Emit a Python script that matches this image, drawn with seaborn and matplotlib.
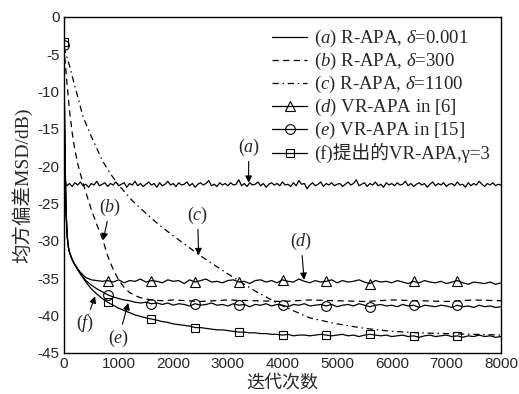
import matplotlib
matplotlib.use('Agg')
import numpy as np
import pandas as pd
import matplotlib.pyplot as plt
import seaborn as sns
from matplotlib.lines import Line2D

# ---------------- data ----------------
iters_a = [0, 10, 20, 30, 40] + list(range(50, 8001, 50))
msd_a = [-3.5, -15.0, -20.0, -22.0, -22.5,
         -22.6, -22.3, -22.7, -22.2, -22.5, -22.1, -22.6, -22.4, -22.8, -22.3, -22.5, -22.0, -22.6, -22.4, -22.2, -22.7, -22.3, -22.5, -22.1, -22.6,
         -22.4, -22.2, -22.8, -22.3, -22.5, -22.0, -22.6, -22.3, -22.7, -22.4, -22.1, -22.5, -22.3, -22.8, -22.2, -22.6, -22.4, -22.0, -22.5, -22.3,
         -22.7, -22.2, -22.5, -22.4, -22.1, -22.6, -22.3, -22.8, -22.4, -22.2, -22.5, -22.3, -21.9, -22.6, -22.4, -22.7, -22.2, -22.5, -22.3, -22.6,
         -22.2, -22.5, -22.4, -21.8, -22.6, -22.3, -22.7, -22.2, -22.5, -22.4, -22.1, -22.6, -22.3, -22.8, -22.4, -22.2, -22.5, -22.3, -22.6, -22.1,
         -22.5, -22.4, -22.7, -22.2, -22.6, -21.9, -22.4, -22.3, -23.0, -22.5, -22.2, -22.6, -22.4, -22.1, -22.7, -22.3, -22.5, -22.2, -22.6, -22.4,
         -22.3, -22.7, -22.4, -22.1, -22.5, -22.3, -21.8, -22.6, -22.4, -22.2, -22.7, -22.3, -22.5, -22.1, -22.6, -22.4, -22.8, -22.2, -22.5, -22.3,
         -22.6, -22.2, -22.5, -22.4, -22.0, -22.6, -22.3, -22.7, -22.4, -22.2, -22.5, -22.3, -22.8, -22.4, -22.1, -22.6, -22.3, -22.5, -22.2, -22.7,
         -22.4, -22.3, -22.6, -22.1, -22.5, -22.4, -22.8, -22.2, -22.6, -22.3, -22.5, -22.0, -22.4, -22.7, -22.3, -22.5, -22.2, -22.6, -22.4, -22.5]

iters_b = [0, 50, 100, 150, 200, 250, 300, 400, 500, 600, 700, 800, 900, 1000, 1100, 1200, 1300, 1400, 1600, 1800,
           2000, 2500, 3000, 3500, 4000, 4500, 5000, 5500, 6000, 6500, 7000, 7500, 8000]
msd_b = [-4.0, -8.5, -12.5, -15.5, -17.8, -19.6, -21.0, -23.5, -25.8, -27.8, -29.6, -32.0, -33.8, -35.2, -36.2, -36.9, -37.3, -37.6, -37.9, -38.0,
         -37.9, -38.1, -37.9, -38.0, -38.1, -37.9, -38.0, -38.1, -37.9, -38.0, -38.1, -37.9, -38.0]

iters_c = [0, 100, 200, 350, 500, 700, 850, 1000, 1250, 1500, 1750, 2000, 2500, 3000, 3500, 4000, 4500, 5000, 5500, 6000, 6500, 7000, 7500, 8000]
msd_c = [-4.0, -6.5, -9.3, -13.4, -16.0, -19.2, -21.0, -22.5, -24.6, -26.3, -27.9, -29.3, -32.0, -34.4, -36.7, -38.7, -40.3, -41.1, -41.7, -42.1, -42.3, -42.4, -42.5, -42.6]

iters_def = [0, 10, 20, 40, 60, 80, 100, 150, 200, 250, 300, 400, 500, 600, 700] + list(range(800, 8001, 100))
msd_d = [-3.5, -14.0, -20.0, -26.5, -29.5, -30.8, -31.5, -32.5, -33.2, -33.7, -34.2, -34.9, -35.2, -35.3, -35.4,
         -35.3, -35.5, -35.2, -35.6, -35.3, -35.4, -35.1, -35.5, -35.3, -35.4,
         -35.6, -35.2, -35.4, -35.3, -35.7, -35.2, -35.5, -35.3, -35.1, -35.5,
         -35.4, -35.6, -35.3, -35.2, -35.5, -35.4, -35.7, -35.3, -35.2, -35.5,
         -35.3, -35.6, -35.2, -35.4, -35.5, -35.1, -35.4, -35.6, -35.3, -35.5,
         -35.4, -35.2, -35.6, -35.3, -35.5, -35.4, -35.2, -35.5, -35.7, -35.3,
         -35.5, -35.4, -35.6, -35.3, -35.5, -35.7, -35.4, -35.6, -35.3, -35.5,
         -35.6, -35.4, -35.7, -35.5, -35.3, -35.6, -35.8, -35.5, -35.6, -35.7,
         -35.5, -35.8, -35.6]
msd_e = [-3.8, -14.0, -20.0, -26.5, -29.5, -30.8, -31.5, -32.5, -33.2, -33.8, -34.4, -35.3, -35.9, -36.4, -36.8,
         -37.2, -37.5, -37.7, -37.9, -38.0, -38.2, -38.3, -38.2, -38.4, -38.3,
         -38.5, -38.3, -38.6, -38.4, -38.5, -38.7, -38.4, -38.6, -38.5, -38.3,
         -38.6, -38.5, -38.7, -38.4, -38.6, -38.5, -38.8, -38.5, -38.6, -38.4,
         -38.7, -38.5, -38.6, -38.8, -38.5, -38.6, -38.4, -38.7, -38.6, -38.5,
         -38.7, -38.5, -38.8, -38.6, -38.5, -38.7, -38.4, -38.6, -38.8, -38.6,
         -38.5, -38.7, -38.6, -38.8, -38.5, -38.7, -38.6, -38.9, -38.6, -38.7,
         -38.8, -38.6, -38.7, -38.9, -38.6, -38.8, -38.7, -38.9, -38.6, -38.8,
         -38.7, -38.9, -38.8]
msd_f = [-3.3, -14.0, -20.0, -26.5, -29.5, -30.8, -31.5, -32.5, -33.2, -33.8, -34.4, -35.5, -36.4, -37.1, -37.7,
         -38.2, -38.6, -39.0, -39.3, -39.6, -39.9, -40.1, -40.3, -40.45, -40.6,
         -40.8, -40.9, -41.1, -41.2, -41.3, -41.4, -41.6, -41.6, -41.7, -41.8,
         -41.9, -41.9, -42.0, -42.1, -42.2, -42.2, -42.3, -42.3, -42.4, -42.4,
         -42.5, -42.5, -42.6, -42.5, -42.7, -42.6, -42.6, -42.7, -42.6, -42.5,
         -42.6, -42.7, -42.6, -42.5, -42.7, -42.6, -42.8, -42.6, -42.5, -42.6,
         -42.7, -42.6, -42.8, -42.7, -42.6, -42.8, -42.7, -42.9, -42.7, -42.6,
         -42.8, -42.7, -42.6, -42.8, -42.7, -42.9, -42.7, -42.8, -42.6, -42.8,
         -42.7, -42.9, -42.8]
marker_iters = [800, 1600, 2400, 3200, 4000, 4800, 5600, 6400, 7200]

legend_labels = [
    r'($a$) R-APA, $\delta$=0.001',
    r'($b$) R-APA, $\delta$=300',
    r'($c$) R-APA, $\delta$=1100',
    r'($d$) VR-APA in [6]',
    r'($e$) VR-APA in [15]',
    '(f)提出的VR-APA,γ=3',
]
xticks = [0, 1000, 2000, 3000, 4000, 5000, 6000, 7000, 8000]
yticks = [0, -5, -10, -15, -20, -25, -30, -35, -40, -45]

# ---------------- style ----------------
sns.set_style('white')
plt.rcParams['font.family'] = ['Liberation Serif', 'Noto Sans CJK SC']
plt.rcParams['mathtext.fontset'] = 'custom'
plt.rcParams['mathtext.rm'] = 'Liberation Serif'
plt.rcParams['mathtext.it'] = 'Liberation Serif:italic'
plt.rcParams['mathtext.bf'] = 'Liberation Serif:bold'
plt.rcParams['axes.unicode_minus'] = False

fig = plt.figure(figsize=(5.19, 3.94), dpi=100)
ax = fig.add_axes([64 / 519, 1 - 353 / 394, (501 - 64) / 519, (353 - 17) / 394])

lw = 0.9
def draw(x, y, dashes=None, marker=None, mark_idx=None):
    df = pd.DataFrame({'it': x, 'msd': y})
    sns.lineplot(data=df, x='it', y='msd', ax=ax, color='k', lw=lw, estimator=None, sort=False)
    line = ax.lines[-1]
    if dashes is not None:
        line.set_dashes(dashes)
    if marker is not None:
        line.set_marker(marker)
        line.set_markevery(mark_idx)
        line.set_markerfacecolor('none')
        line.set_markeredgecolor('k')
        line.set_markeredgewidth(0.8)
        line.set_markersize(7 if marker != 's' else 6.2)
    return line

idx = [iters_def.index(m) for m in marker_iters]
draw(iters_a, msd_a)
draw(iters_b, msd_b, dashes=(5, 3.5))
draw(iters_c, msd_c, dashes=(5, 3, 1.2, 3))
draw(iters_def, msd_d, marker='^', mark_idx=idx)
draw(iters_def, msd_e, marker='o', mark_idx=[0] + idx)
draw(iters_def, msd_f, marker='s', mark_idx=[0] + idx)

ax.set_xlim(0, 8000)
ax.set_ylim(-45, 0)
ax.set_xticks(xticks)
ax.set_yticks(yticks)
ax.set_xticklabels([str(v) for v in xticks], family='Liberation Sans', fontsize=11)
ax.set_yticklabels([str(v) for v in yticks], family='Liberation Sans', fontsize=11)
ax.tick_params(direction='in', length=5, width=0.9, top=False, right=False, pad=3)
for s in ax.spines.values():
    s.set_linewidth(1.0)
    s.set_color('k')
ax.set_xlabel('迭代次数', family=['Noto Sans CJK SC'], fontsize=13, labelpad=2)
ax.set_ylabel('均方偏差MSD/dB)', family=['Liberation Serif', 'Noto Sans CJK SC'], fontsize=14, labelpad=4)

# legend
handles = [
    Line2D([], [], color='k', lw=lw),
    Line2D([], [], color='k', lw=lw, dashes=(5, 3.5)),
    Line2D([], [], color='k', lw=lw, dashes=(5, 3, 1.2, 3)),
    Line2D([], [], color='k', lw=lw, marker='^', mfc='none', mec='k', mew=0.8, ms=7),
    Line2D([], [], color='k', lw=lw, marker='o', mfc='none', mec='k', mew=0.8, ms=7),
    Line2D([], [], color='k', lw=lw, marker='s', mfc='none', mec='k', mew=0.8, ms=6.2),
]
leg = ax.legend(handles, legend_labels, loc='upper right', bbox_to_anchor=(1.0, 1.0),
                frameon=False, fontsize=13.5, handlelength=1.9, handletextpad=0.35,
                labelspacing=0.1, borderpad=0.6, borderaxespad=0.0)

# annotations
annots = [
    (r'($a$)', (3380, -22.2), (3380, -17.5)),
    (r'($b$)', (717, -29.9), (846, -25.5)),
    (r'($c$)', (2464, -31.9), (2446, -26.6)),
    (r'($d$)', (4395, -35.2), (4340, -30.1)),
    (r'($e$)', (1177, -38.3), (1000, -43.0)),
    (r'($f$)', (570, -37.4), (390, -41.0)),
]
for txt, tip, pos in annots:
    ax.annotate(txt, xy=tip, xytext=pos, ha='center', va='center', fontsize=13,
                arrowprops=dict(arrowstyle='-|>', color='k', lw=0.8, mutation_scale=10,
                                shrinkA=0, shrinkB=0))

fig.savefig('out.png', dpi=100)
